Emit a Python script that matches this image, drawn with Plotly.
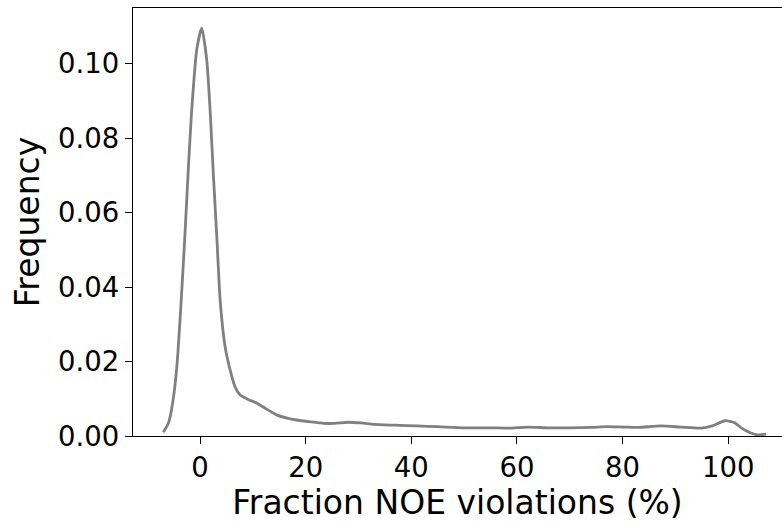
import plotly.graph_objects as go

x_vals = [-6.96, -6.0, -5.2, -4.4, -3.67, -2.85, -2.2, -1.58, -0.63, 0.32, 1.27, 1.9, 2.5, 3.2, 3.8,
          4.74, 5.7, 6.6, 7.6, 9.0, 10.8, 12.5, 14.6, 16.5, 18.3, 21.0, 23.4, 25.5, 28.0, 30.5, 33.0,
          37.0, 41.0, 45.0, 50.0, 55.0, 58.5, 62.0, 66.0, 70.0, 74.0, 77.0, 80.0, 83.0, 87.3, 91.0,
          94.9, 97.0, 99.4, 101.2, 102.5, 103.7, 104.7, 105.6, 106.5, 107.2]
y_vals = [0.0010, 0.0034, 0.0088, 0.0186, 0.0340, 0.0545, 0.0724, 0.0876, 0.1038, 0.1096, 0.1010,
          0.0876, 0.0707, 0.0527, 0.0366, 0.0240, 0.0177, 0.0133, 0.0110, 0.0099, 0.0088, 0.0073,
          0.0056, 0.0048, 0.0043, 0.0038, 0.0034, 0.0034, 0.0037, 0.0035, 0.0031, 0.0029, 0.0027,
          0.0025, 0.0022, 0.0022, 0.0021, 0.0024, 0.0022, 0.0022, 0.0023, 0.0025, 0.0024, 0.0023,
          0.0027, 0.0024, 0.0021, 0.0027, 0.0041, 0.0036, 0.0022, 0.0012, 0.0006, 0.0003, 0.0004, 0.0005]

x_ticks = [0, 20, 40, 60, 80, 100]
y_ticks = [0.00, 0.02, 0.04, 0.06, 0.08, 0.10]

fig = go.Figure()
fig.add_trace(go.Scatter(x=x_vals, y=y_vals, mode="lines",
                         line=dict(color="#808080", width=2.8, shape="spline", smoothing=0.6),
                         showlegend=False, hoverinfo="skip"))

font = "DejaVu Sans, Verdana, sans-serif"
fig.update_layout(
    width=782, height=523,
    margin=dict(l=133, r=0, t=8, b=87),
    paper_bgcolor="white", plot_bgcolor="white",
    font=dict(family=font, color="black"),
    xaxis=dict(range=[-12.7, 110.2], tickvals=x_ticks, ticktext=[str(v) for v in x_ticks],
               showgrid=False, zeroline=False, showline=True, linecolor="black", linewidth=1.3,
               mirror=True, ticks="outside", ticklen=7, tickwidth=1.3, tickcolor="black",
               tickfont=dict(size=27.5, family=font),
               title=dict(text="Fraction NOE violations (%)", font=dict(size=33, family=font), standoff=4)),
    yaxis=dict(range=[0, 0.115], tickvals=y_ticks, ticktext=[f"{v:.2f}" for v in y_ticks],
               showgrid=False, zeroline=False, showline=True, linecolor="black", linewidth=1.3,
               mirror=False, ticks="outside", ticklen=7, tickwidth=1.3, tickcolor="black",
               tickfont=dict(size=27.5, family=font),
               title=dict(text="Frequency", font=dict(size=33, family=font), standoff=8)),
)
fig.write_html("out.html")
